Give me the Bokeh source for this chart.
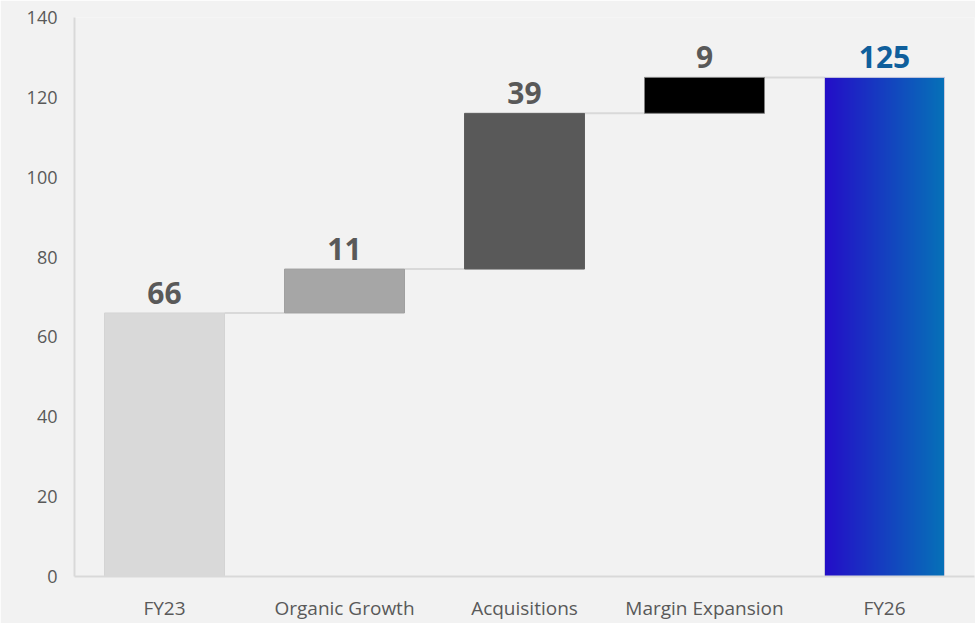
import numpy as np
from bokeh.plotting import figure
from bokeh.models import Range1d, FixedTicker, ColumnDataSource
from bokeh.core.properties import value
from bokeh.embed import file_html
from bokeh.resources import INLINE

categories = ["FY23", "Organic Growth", "Acquisitions", "Margin Expansion", "FY26"]
changes = [66, 11, 39, 9, 125]
is_total = [True, False, False, False, True]
bar_colors = ["#d9d9d9", "#a6a6a6", "#595959", "#000000", None]
label_colors = ["#595959", "#595959", "#595959", "#595959", "#0f5f9c"]
grad_left = (36, 14, 200)
grad_right = (6, 114, 184)
y_ticks = [0, 20, 40, 60, 80, 100, 120, 140]

# waterfall bottoms/tops
bottoms, tops = [], []
running = 0
for v, tot in zip(changes, is_total):
    if tot:
        bottoms.append(0)
        tops.append(v)
        running = v
    else:
        bottoms.append(running)
        running += v
        tops.append(running)

BG = "#f2f2f2"
W = 2 / 3
xs = [i + 0.5 for i in range(len(categories))]

p = figure(width=975, height=623, output_backend="svg", toolbar_location=None,
           x_range=Range1d(0, len(categories)), y_range=Range1d(0, 140),
           min_border_left=74, min_border_right=1, min_border_top=17, min_border_bottom=47)
p.background_fill_color = BG
p.border_fill_color = BG
p.outline_line_color = None
p.grid.visible = False

# connectors
for i in range(len(categories) - 1):
    p.segment(x0=xs[i] + W / 2, x1=xs[i + 1] - W / 2, y0=tops[i], y1=tops[i],
              line_color="#d9d9d9", line_width=2)

# solid bars
solid = [i for i, c in enumerate(bar_colors) if c is not None]
src = ColumnDataSource(dict(
    x=[xs[i] for i in solid], top=[tops[i] for i in solid],
    bottom=[bottoms[i] for i in solid], color=[bar_colors[i] for i in solid],
    lc=["#d4d4d4", "#a0a0a0", "#5e5e5e", "#7f7f7f"]))
p.vbar(x="x", top="top", bottom="bottom", width=W, fill_color="color",
       line_color="lc", line_width=1, source=src)

# gradient total bar
gi = 4
n = 200
t = np.linspace(0, 1, n)
r = (grad_left[0] + (grad_right[0] - grad_left[0]) * t).astype(np.uint32)
g = (grad_left[1] + (grad_right[1] - grad_left[1]) * t).astype(np.uint32)
b = (grad_left[2] + (grad_right[2] - grad_left[2]) * t).astype(np.uint32)
row = (255 << 24) | (b << 16) | (g << 8) | r
img = np.tile(row, (2, 1)).astype(np.uint32)
p.image_rgba(image=[img], x=xs[gi] - W / 2, y=bottoms[gi], dw=W, dh=tops[gi] - bottoms[gi])
p.quad(left=xs[gi] - W / 2, right=xs[gi] + W / 2, bottom=bottoms[gi], top=tops[gi],
       fill_color=None, line_color="#c8c8dc", line_width=1)

# value labels
lsrc = ColumnDataSource(dict(x=xs, y=tops, text=[str(v) for v in changes], color=label_colors))
p.text(x="x", y="y", text="text", text_color="color", source=lsrc,
       text_align="center", text_baseline="alphabetic", y_offset=-20,
       text_font=value("Open Sans"), text_font_style="bold", text_font_size="30px")

# axes
p.xaxis.ticker = FixedTicker(ticks=xs)
p.xaxis.major_label_overrides = {x: c for x, c in zip(xs, categories)}
p.yaxis.ticker = FixedTicker(ticks=y_ticks)
for ax in (p.xaxis[0], p.yaxis[0]):
    ax.axis_line_color = "#d9d9d9"
    ax.axis_line_width = 2
    ax.major_tick_line_color = None
    ax.minor_tick_line_color = None
    ax.major_tick_out = 0
    ax.major_tick_in = 0
    ax.major_label_text_font = "Open Sans"
    ax.major_label_text_color = "#595959"
p.yaxis.major_label_text_font_size = "18px"
p.xaxis.major_label_text_font_size = "19px"
p.xaxis.major_label_standoff = 18
p.yaxis.major_label_standoff = 17

open("out.html", "w").write(file_html(p, INLINE))
